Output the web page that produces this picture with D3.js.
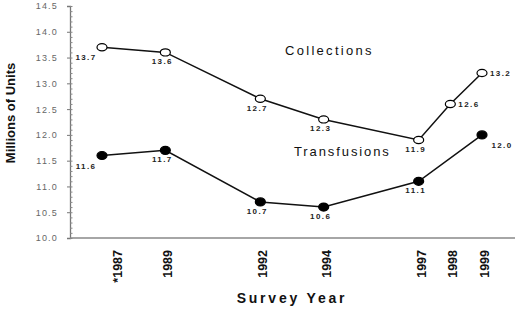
<html>
  <head>
    <meta charset="utf-8"/>
    <style>
      body {
        margin: 0;
        background: white;
      }
      text {
        font-family: "Liberation Sans", Arial, sans-serif;
      }
      .ylab text {
        fill: #666;
        font-size: 9px;
        letter-spacing: 1.2px;
      }
      .vlab {
        fill: #222;
        font-size: 8px;
        font-weight: bold;
        letter-spacing: 1.4px;
      }
    </style>
    <script src="https://d3js.org/d3.v7.min.js"></script>
  </head>
  <body>
    <script>
    var width = 520, height = 309;

    // data
    var years = [1987, 1989, 1992, 1994, 1997, 1998, 1999];
    var yearLabels = ["*1987", "1989", "1992", "1994", "1997", "1998", "1999"];
    var collections = [13.7, 13.6, 12.7, 12.3, 11.9, 12.6, 13.2];
    var transfusions = [11.6, 11.7, 10.7, 10.6, 11.1, null, 12.0];
    var yTicks = [10.0, 10.5, 11.0, 11.5, 12.0, 12.5, 13.0, 13.5, 14.0, 14.5];

    // where each value label sits relative to its marker
    var collLabelPos = ["belowLeft", "below", "below", "below", "below", "right", "right"];
    var tranLabelPos = ["belowLeft", "below", "below", "below", "below", null, "belowRight"];
    var offsets = {
      below:      {dx: -3,  dy: 12, anchor: "middle"},
      belowLeft:  {dx: -16, dy: 13, anchor: "middle"},
      right:      {dx: 8,   dy: 3,  anchor: "start"},
      belowRight: {dx: 20,  dy: 13, anchor: "middle"}
    };

    var svg = d3.select("body").append("svg")
      .attr("width", width).attr("height", height);

    var x = d3.scaleLinear().domain([1987, 1999]).range([102, 482]);
    var y = d3.scaleLinear().domain([10, 14.5]).range([238, 6]);

    // y axis: major ticks outward, minor ticks inward
    var yAxis = svg.append("g").attr("class", "ylab")
      .attr("transform", "translate(70,0)")
      .call(d3.axisLeft(y).tickValues(yTicks).tickSize(3).tickPadding(9)
        .tickFormat(d3.format(".1f")));
    yAxis.select(".domain").attr("stroke", "#777").attr("stroke-width", 1.3);
    yAxis.selectAll("line").attr("stroke", "#777");

    var minor = svg.append("g")
      .attr("transform", "translate(70,0)")
      .call(d3.axisRight(y).tickValues(d3.range(100, 146).map(d => d / 10))
        .tickSize(2.5).tickFormat(""));
    minor.select(".domain").remove();
    minor.selectAll("line").attr("stroke", "#888");

    // x axis
    svg.append("line")
      .attr("x1", 70).attr("x2", 515)
      .attr("y1", y(10)).attr("y2", y(10))
      .attr("stroke", "#888").attr("stroke-width", 1.5);

    svg.append("g").selectAll("text")
      .data(years)
      .enter().append("text")
      .attr("transform", (d, i) => "translate(" + (x(d) + (i == 0 ? 20 : 7)) + ",250) rotate(-90)")
      .attr("text-anchor", "end")
      .attr("font-size", 12.5)
      .attr("font-weight", "bold")
      .attr("font-family", "DejaVu Sans")
      .attr("fill", "#111")
      .text((d, i) => yearLabels[i]);

    svg.append("text")
      .attr("x", 292).attr("y", 303)
      .attr("text-anchor", "middle")
      .attr("font-size", 14)
      .attr("font-weight", 600)
      .attr("font-family", "'Open Sans', sans-serif")
      .attr("letter-spacing", "2.8px")
      .attr("fill", "#111")
      .text("Survey Year");

    svg.append("text")
      .attr("transform", "translate(15,113) rotate(-90)")
      .attr("text-anchor", "middle")
      .attr("font-size", 13)
      .attr("font-weight", "bold")
      .attr("fill", "#111")
      .text("Millions of Units");

    svg.append("text")
      .attr("x", 285).attr("y", 55)
      .attr("font-size", 13)
      .attr("letter-spacing", "2.3px")
      .attr("fill", "#111")
      .text("Collections");

    svg.append("text")
      .attr("x", 294).attr("y", 156)
      .attr("font-size", 13)
      .attr("letter-spacing", "1.9px")
      .attr("fill", "#111")
      .text("Transfusions");

    function drawSeries(values, labelPos, filled) {
      var pts = years.map((yr, i) => ({year: yr, value: values[i], pos: labelPos[i]}))
        .filter(d => d.value != null);

      svg.append("path")
        .datum(pts)
        .attr("fill", "none")
        .attr("stroke", "#111")
        .attr("stroke-width", 1.5)
        .attr("d", d3.line().x(d => x(d.year)).y(d => y(d.value)));

      svg.append("g").selectAll("ellipse")
        .data(pts)
        .enter().append("ellipse")
        .attr("cx", d => x(d.year))
        .attr("cy", d => y(d.value))
        .attr("rx", 5)
        .attr("ry", filled ? 4 : 3.6)
        .attr("fill", filled ? "#000" : "white")
        .attr("stroke", "#000")
        .attr("stroke-width", 1.2);

      svg.append("g").selectAll("text")
        .data(pts)
        .enter().append("text")
        .attr("class", "vlab")
        .attr("x", d => x(d.year) + offsets[d.pos].dx)
        .attr("y", d => y(d.value) + offsets[d.pos].dy)
        .attr("text-anchor", d => offsets[d.pos].anchor)
        .text(d => d3.format(".1f")(d.value));
    }

    drawSeries(collections, collLabelPos, false);
    drawSeries(transfusions, tranLabelPos, true);
    </script>
  </body>
</html>
